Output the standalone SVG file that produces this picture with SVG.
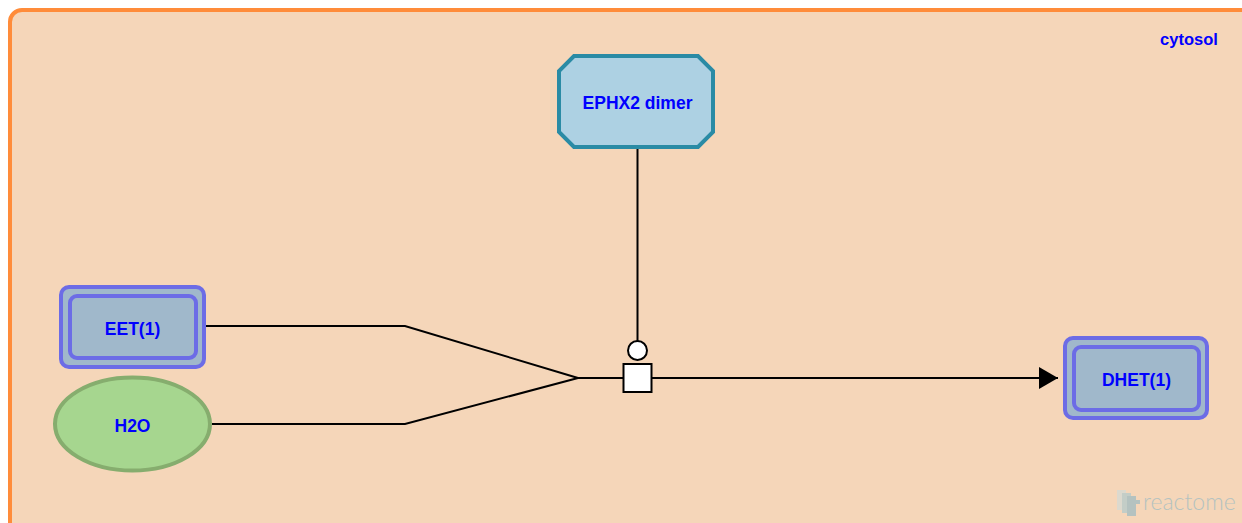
<svg xmlns="http://www.w3.org/2000/svg" width="1242" height="523" viewBox="0 0 1242 523">
<style>
  .lbl{font-family:"Liberation Sans",Arial,sans-serif;font-weight:bold;font-size:17.5px;fill:#0000FF;text-anchor:middle}
  .edge{fill:none;stroke:#000;stroke-width:2}
  .complex-o{fill:#A0B8CB;stroke:#6C6CE6;stroke-width:4}
  .complex-i{fill:none;stroke:#6C6CE6;stroke-width:4}
</style>
<defs>
  <marker id="arrow" markerWidth="20" markerHeight="22" refX="19" refY="11" orient="auto" markerUnits="userSpaceOnUse">
    <path d="M0,0 L19,11 L0,22 Z" fill="#000"/>
  </marker>
</defs>
<rect width="1242" height="523" fill="#FFFFFF"/>
<g id="cytosol">
  <rect x="10" y="10" width="1260" height="540" rx="12" ry="12" fill="#F5D6B9" stroke="#FF8C3A" stroke-width="4"/>
  <text x="1189" y="44.5" font-family="Liberation Sans,Arial,sans-serif" font-weight="bold" font-size="16.5" fill="#0000FF" text-anchor="middle">cytosol</text>
</g>
<g id="connectors">
  <polyline class="edge" points="206,326 405,326 578,378"/>
  <polyline class="edge" points="212,424 405,424 578,378"/>
  <line class="edge" x1="578" y1="378" x2="624" y2="378"/>
  <line class="edge" x1="651" y1="378" x2="1058" y2="378" marker-end="url(#arrow)"/>
  <line class="edge" x1="637.5" y1="149" x2="637.5" y2="341"/>
  <circle cx="637.5" cy="350.5" r="9.5" fill="#FFFFFF" stroke="#000" stroke-width="2"/>
  <rect x="623.5" y="364" width="28" height="28" fill="#FFFFFF" stroke="#000" stroke-width="2"/>
</g>
<g id="EPHX2_dimer">
  <polygon points="574,56 698,56 713,71 713,132 698,147 574,147 559,132 559,71" fill="#ADD1E3" stroke="#2A8BA5" stroke-width="4"/>
  <text class="lbl" x="637.5" y="108.5">EPHX2 dimer</text>
</g>
<g id="EET1">
  <rect class="complex-o" x="61" y="287" width="143" height="80" rx="8" ry="8"/>
  <rect class="complex-i" x="70" y="296" width="126" height="62" rx="7" ry="7"/>
  <text class="lbl" x="132.5" y="335">EET(1)</text>
</g>
<g id="H2O">
  <ellipse cx="132.5" cy="424" rx="77.5" ry="46.5" fill="#A6D68F" stroke="#86AD6E" stroke-width="4"/>
  <text class="lbl" x="132.5" y="431.5">H2O</text>
</g>
<g id="DHET1">
  <rect class="complex-o" x="1065" y="338" width="142" height="80" rx="8" ry="8"/>
  <rect class="complex-i" x="1074" y="347" width="125" height="63" rx="7" ry="7"/>
  <text class="lbl" x="1136.5" y="386">DHET(1)</text>
</g>
<g id="watermark" opacity="0.55">
  <rect x="1117" y="490" width="9" height="20" fill="#C8DDE0"/>
  <rect x="1122" y="493" width="9" height="20" fill="#9CC6D3"/>
  <rect x="1127" y="496" width="9" height="20" fill="#7FB3C6"/>
  <rect x="1129" y="500" width="11" height="4" fill="#7FB3C6"/>
  <text x="1143" y="510" font-family="Lato,'Liberation Sans',sans-serif" font-weight="300" font-size="23" fill="#7FB3C6">reactome</text>
</g>
</svg>
